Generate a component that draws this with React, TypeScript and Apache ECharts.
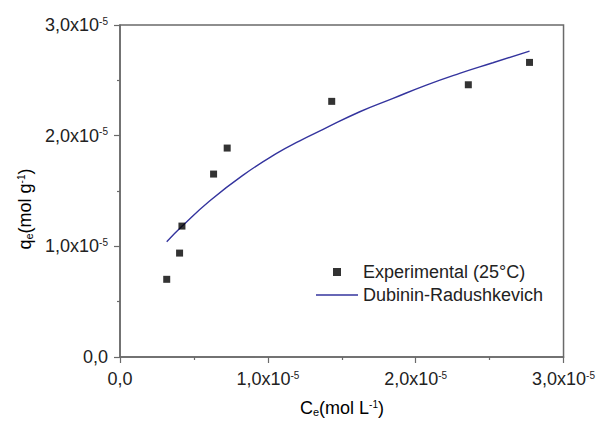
import React, { useEffect, useRef } from "react";
import * as echarts from "echarts";

// Experimental points (Ce, qe) in mol/L and mol/g
const expCe = [3.16e-6, 4.03e-6, 4.19e-6, 6.33e-6, 7.25e-6, 1.432e-5, 2.356e-5, 2.77e-5];
const expQe = [7.02e-6, 9.39e-6, 1.183e-5, 1.653e-5, 1.888e-5, 2.31e-5, 2.46e-5, 2.662e-5];

// Dubinin-Radushkevich fitted curve
const drCe = [3.16e-6, 4.21e-6, 6.08e-6, 8.33e-6, 1.059e-5, 1.216e-5, 1.374e-5, 1.622e-5, 1.847e-5, 2.072e-5, 2.297e-5, 2.522e-5, 2.77e-5];
const drQe = [1.042e-5, 1.183e-5, 1.412e-5, 1.644e-5, 1.84e-5, 1.954e-5, 2.057e-5, 2.216e-5, 2.337e-5, 2.457e-5, 2.563e-5, 2.659e-5, 2.764e-5];

const seriesNames = ["Experimental (25°C)", "Dubinin-Radushkevich"];
const axisMin = 0;
const axisMax = 3e-5;
const axisStep = 1e-5;

const FONT = "'Liberation Sans', Arial, Helvetica, sans-serif";
const TXT = "#222";
const LINE = "#34349e";

const fmt = (v: number) => {
  const m = v / 1e-5;
  if (Math.abs(m) < 1e-9) return "{n|0,0}";
  return `{n|${m.toFixed(1).replace(".", ",")}x10}{s|-5}`;
};

const rich = {
  n: { fontSize: 18, fontFamily: FONT, color: TXT },
  s: { fontSize: 10, fontFamily: FONT, color: TXT, verticalAlign: "top" },
  b: { fontSize: 11, fontFamily: FONT, color: TXT, verticalAlign: "bottom" },
};

export default function App() {
  const ref = useRef<HTMLDivElement>(null);
  useEffect(() => {
    if (!ref.current) return;
    const chart = echarts.init(ref.current, undefined, { renderer: "svg" });
    const axisCommon = {
      type: "value",
      min: axisMin,
      max: axisMax,
      interval: axisStep,
      splitLine: { show: false },
      axisLine: { show: true, lineStyle: { color: "#6a6a6a", width: 1.5 } },
      axisTick: { show: true, length: 6, lineStyle: { color: "#6a6a6a", width: 1.2 } },
      minorTick: { show: true, splitNumber: 2, length: 3, lineStyle: { color: "#6a6a6a", width: 1.2 } },
    };
    chart.setOption({
      animation: false,
      backgroundColor: "#fff",
      grid: {
        left: 120,
        right: 34,
        top: 25,
        bottom: 64,
        show: true,
        borderColor: "#6a6a6a",
        borderWidth: 1.5,
      },
      xAxis: {
        ...axisCommon,
        axisLabel: { formatter: fmt, rich, margin: 13 },
      },
      yAxis: {
        ...axisCommon,
        axisLabel: { formatter: fmt, rich, margin: 12 },
      },
      legend: {
        orient: "vertical",
        left: 316,
        top: 263,
        padding: 0,
        itemWidth: 42,
        itemHeight: 8,
        itemGap: 5,
        symbolKeepAspect: true,
        textStyle: { fontSize: 18, fontFamily: FONT, color: TXT },
        data: [
          { name: seriesNames[0], icon: "path://M0,0H1V1H0Z" },
          { name: seriesNames[1], icon: "path://M0,0H60V2H0Z" },
        ],
      },
      graphic: [
        {
          type: "text",
          x: 342,
          y: 408,
          style: {
            text: "{n|C}{b|e}{n|(mol L}{s|-1}{n|)}",
            rich,
            align: "center",
            verticalAlign: "middle",
          },
        },
        {
          type: "text",
          x: 25,
          y: 209,
          rotation: Math.PI / 2,
          style: {
            text: "{n|q}{b|e}{n|(mol g}{s|-1}{n|)}",
            rich,
            align: "center",
            verticalAlign: "middle",
          },
        },
      ],
      series: [
        {
          name: seriesNames[0],
          type: "scatter",
          symbol: "rect",
          symbolSize: 7,
          itemStyle: { color: "#000" },
          data: expCe.map((c, i) => [c, expQe[i]]),
          z: 3,
        },
        {
          name: seriesNames[1],
          type: "line",
          smooth: true,
          showSymbol: false,
          symbol: "none",
          lineStyle: { color: LINE, width: 1.4 },
          itemStyle: { color: LINE },
          data: drCe.map((c, i) => [c, drQe[i]]),
          z: 2,
        },
      ],
    });
    return () => chart.dispose();
  }, []);
  return (
    <div
      ref={ref}
      style={{ position: "absolute", left: 0, top: 0, width: 598, height: 421 }}
    />
  );
}
